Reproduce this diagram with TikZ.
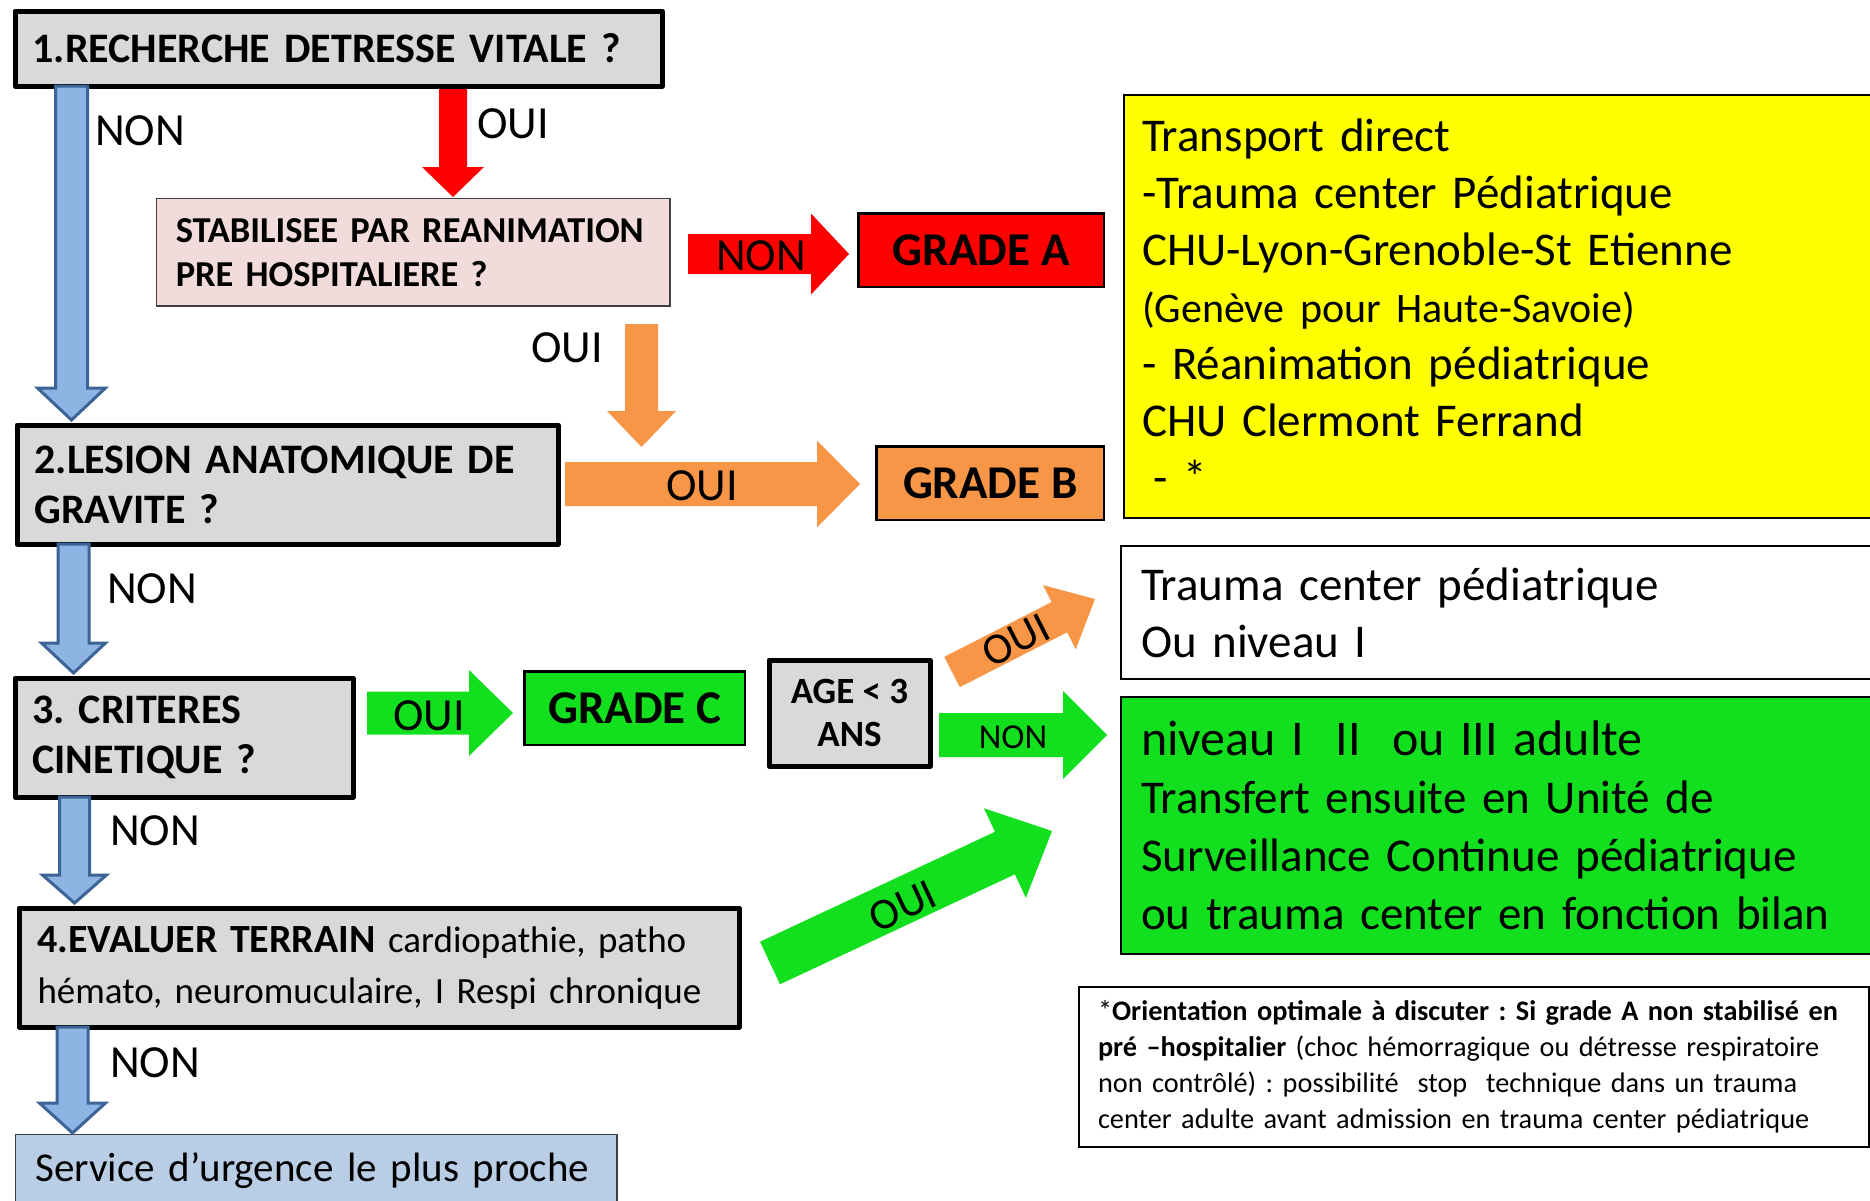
\documentclass[tikz,border=0pt]{standalone}
\usepackage{fontspec}
\setmainfont{Carlito}
\usetikzlibrary{calc}
\definecolor{boxgray}{HTML}{D9D9D9}
\definecolor{pinkbox}{HTML}{F2DCDB}
\definecolor{orangeA}{HTML}{F79646}
\definecolor{greenA}{HTML}{12E01F}
\definecolor{blueF}{HTML}{8EB4E3}
\definecolor{blueD}{HTML}{3C6496}
\definecolor{servblue}{HTML}{B9CDE5}
\definecolor{redA}{HTML}{FF0000}
\definecolor{yellowA}{HTML}{FFFF00}
\definecolor{thinline}{HTML}{404040}
\newcommand\barrowx[6]{%
  \coordinate (bxH) at ($(#3)!#6!(#2)$);
  \path[#1] ($(#2)!#4!90:(#3)$) -- ($(bxH)!#4!90:(#3)$) -- ($(bxH)!#5!90:(#3)$) -- (#3)
    -- ($(bxH)!#5!-90:(#3)$) -- ($(bxH)!#4!-90:(#3)$) -- ($(#2)!#4!-90:(#3)$) -- cycle;}
\tikzset{
  qbox/.style={draw=black, line width=5pt, line join=round, fill=boxgray, anchor=north west,
    align=left, inner ysep=0pt, font=\bfseries\fontsize{42pt}{50pt}\selectfont},
  gbox/.style={draw=black, line width=2.5pt, anchor=north west, inner sep=0pt,
    font=\bfseries\fontsize{47pt}{56pt}\selectfont},
  ibox/.style={draw=black, line width=2pt, anchor=north west, align=left, inner ysep=0pt,
    font=\fontsize{47pt}{57pt}\selectfont},
  lbl/.style={inner sep=0pt, anchor=west, font=\fontsize{46pt}{46pt}\selectfont},
  albl/.style={inner sep=0pt, font=\fontsize{46pt}{46pt}\selectfont},
  bluearr/.style={fill=blueF, draw=blueD, line width=3pt},
  redarr/.style={fill=redA},
  orarr/.style={fill=orangeA},
  grarr/.style={fill=greenA},
}
\begin{document}
\frenchspacing
\begin{tikzpicture}[x=1pt,y=-1pt]
\useasboundingbox (0,0) rectangle (1870,1200);
\clip (0,0) rectangle (1870,1200);

% question boxes
\node[qbox, text width=612pt, inner xsep=17.5pt, minimum height=75pt] (b1) at (12.5,8.5)
  {1.RECHERCHE DETRESSE VITALE ?};
\node[draw=thinline, line width=1.5pt, fill=pinkbox, anchor=north west, align=left,
  inner ysep=0pt, text width=475pt, inner xsep=19.25pt, minimum height=107.5pt,
  font=\bfseries\fontsize{36.5pt}{44pt}\selectfont] (bs) at (155.75,197.75)
  {\mbox{STABILISEE PAR REANIMATION}\\PRE HOSPITALIERE ?};
\node[qbox, text width=506pt, inner xsep=17.5pt, minimum height=119pt] (b2) at (14.5,422.5)
  {\mbox{2.LESION ANATOMIQUE DE}\\GRAVITE ?};
\node[qbox, text width=303pt, inner xsep=17.5pt, minimum height=119pt] (b3) at (12.5,675.5)
  {3. CRITERES\\CINETIQUE ?};
\node[qbox, text width=683pt, inner xsep=18.5pt, minimum height=119pt,
  font=\fontsize{37pt}{51pt}\selectfont] (b4) at (16.5,905.5)
  {\mbox{{\bfseries\fontsize{40pt}{51pt}\selectfont 4.EVALUER TERRAIN} cardiopathie, patho}\\\mbox{hémato, neuromuculaire, I Respi chronique}};
\node[qbox, align=center, inner sep=0pt, minimum width=161pt, minimum height=106pt,
  font=\bfseries\fontsize{37pt}{43pt}\selectfont] (age) at (766.5,657.5)
  {AGE < 3\\ANS};
\node[draw=thinline, line width=1.5pt, fill=servblue, anchor=north west, align=left,
  inner ysep=0pt, text width=561.5pt, inner xsep=20pt, minimum height=72pt,
  font=\fontsize{41pt}{50pt}\selectfont] (serv) at (14.75,1133.75)
  {\mbox{Service d’urgence le plus proche}};

% grade boxes
\node[gbox, fill=redA, minimum width=245.5pt, minimum height=73.5pt] (ga) at (857.25,212.25) {GRADE A};
\node[gbox, fill=orangeA, minimum width=227.5pt, minimum height=73.5pt] (gb) at (875.25,445.25) {GRADE B};
\node[gbox, fill=greenA, minimum width=220.5pt, minimum height=73.5pt] (gc) at (523.25,670.25) {GRADE C};

% destination boxes
\node[ibox, fill=yellowA, text width=740pt, inner xsep=18pt, minimum height=423pt] (dy) at (1123,94)
  {Transport direct\\
   -Trauma center Pédiatrique\\
   CHU-Lyon-Grenoble-St Etienne\\
   {\fontsize{42pt}{57pt}\selectfont (Genève pour Haute-Savoie)}\\
   - Réanimation pédiatrique\\
   CHU Clermont Ferrand\\
   \hspace*{0.25em}- *};
\node[ibox, fill=white, text width=740pt, inner xsep=20pt, minimum height=133pt] (dw) at (1120,545)
  {Trauma center pédiatrique\\Ou niveau I};
\node[ibox, fill=greenA, text width=740pt, inner xsep=20pt, minimum height=257pt,
  font=\fontsize{47pt}{58pt}\selectfont] (dg) at (1120,696)
  {{\fontsize{50pt}{58pt}\selectfont niveau I\ \ II\ \ ou III adulte}\\
   Transfert ensuite en Unité de\\
   Surveillance Continue pédiatrique\\
   ou trauma center en fonction bilan};
\node[ibox, fill=white, text width=752pt, inner xsep=19pt, minimum height=160pt,
  font=\fontsize{28.3pt}{36pt}\selectfont] (note) at (1078,986)
  {\mbox{*\textbf{Orientation optimale à discuter : Si grade A non stabilisé en}}\\
   \mbox{\textbf{pré –hospitalier} (choc hémorragique ou détresse respiratoire}\\
   \mbox{non contrôlé) : possibilité\ \ stop\ \ technique dans un trauma}\\
   \mbox{center adulte avant admission en trauma center pédiatrique}};

% arrow end points
\coordinate (a1s) at (71.5,86);   \coordinate (a1t) at (71.5,420);
\coordinate (a2s) at (73.5,544);  \coordinate (a2t) at (73.5,673);
\coordinate (a3s) at (74.5,797);  \coordinate (a3t) at (74.5,903);
\coordinate (a4s) at (72.5,1027); \coordinate (a4t) at (72.5,1133);
\coordinate (r1s) at (453,89);    \coordinate (r1t) at (453,197);
\coordinate (r2s) at (688,254);   \coordinate (r2t) at (849,254);
\coordinate (o1s) at (641.5,324); \coordinate (o1t) at (641.5,447);
\coordinate (o2s) at (565,484);   \coordinate (o2t) at (860,484);
\coordinate (g1s) at (367,713);   \coordinate (g1t) at (513,713);
\coordinate (g2s) at (939,735);   \coordinate (g2t) at (1107,735);
\coordinate (o3s) at (952,672);   \coordinate (o3t) at (1095,599);
\coordinate (g3s) at (770,963);   \coordinate (g3t) at (1052,831);

% block arrows
\barrowx{bluearr}{a1s}{a1t}{16pt}{34pt}{32pt}
\barrowx{bluearr}{a2s}{a2t}{15.5pt}{32pt}{30pt}
\barrowx{bluearr}{a3s}{a3t}{15pt}{32pt}{28pt}
\barrowx{bluearr}{a4s}{a4t}{15.5pt}{33pt}{30pt}
\barrowx{redarr}{r1s}{r1t}{14pt}{31pt}{30pt}
\barrowx{redarr}{r2s}{r2t}{20pt}{40.5pt}{38pt}
\barrowx{orarr}{o1s}{o1t}{16.5pt}{34.5pt}{36pt}
\barrowx{orarr}{o2s}{o2t}{22pt}{43.5pt}{43pt}
\barrowx{grarr}{g1s}{g1t}{21.5pt}{43pt}{44pt}
\barrowx{grarr}{g2s}{g2t}{22pt}{44pt}{44pt}
\barrowx{orarr}{o3s}{o3t}{17pt}{36pt}{40pt}
\barrowx{grarr}{g3s}{g3t}{23.5pt}{49.5pt}{52pt}

% labels
\node[lbl] (l1) at (95,131) {NON};
\node[lbl] (l2) at (477,124) {OUI};
\node[lbl] (l3) at (531,348) {OUI};
\node[lbl] (l4) at (107,589) {NON};
\node[lbl] (l5) at (110,831) {NON};
\node[lbl] (l6) at (110,1063) {NON};
\node[albl] (l7) at (761,256) {NON};
\node[albl] (l8) at (702,486) {OUI};
\node[albl] (l9) at (429,716) {OUI};
\node[albl, font=\fontsize{35pt}{35pt}\selectfont] (l10) at (1013,737) {NON};
\node[albl, font=\fontsize{44pt}{44pt}\selectfont, rotate=27] (l11) at (1016,640) {OUI};
\node[albl, font=\fontsize{44pt}{44pt}\selectfont, rotate=25] (l12) at (903,906) {OUI};
\end{tikzpicture}
\end{document}
